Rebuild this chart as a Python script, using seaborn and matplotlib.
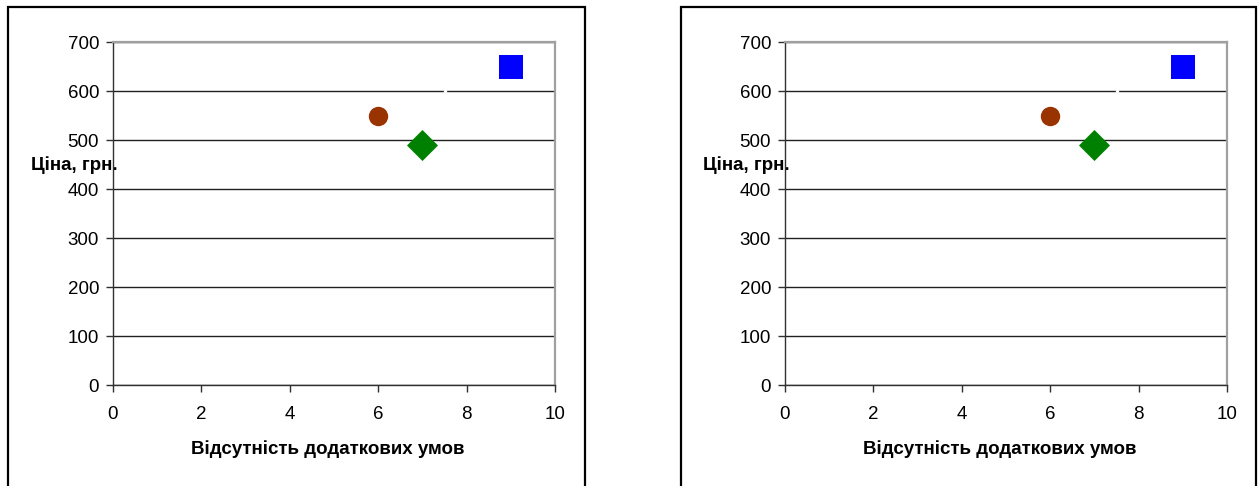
import matplotlib
matplotlib.use("Agg")
import matplotlib.pyplot as plt
import seaborn as sns
import pandas as pd
from matplotlib.patches import Rectangle

sns.set_style("white")
plt.rcParams['font.family'] = ['Liberation Sans', 'DejaVu Sans']

# Data
labels = ["A", "B", "C", "D"]
x_vals = [6, 7, 9, 7.5]
y_vals = [550, 490, 650, 600]
colors = ["#993300", "#008000", "#0000FF", "#FFFFFF"]
markers = ["o", "D", "s", "o"]
sizes = [195, 250, 280, 6]
x_ticks = [0, 2, 4, 6, 8, 10]
y_ticks = [0, 100, 200, 300, 400, 500, 600, 700]
xlabel = "Відсутність додаткових умов"
ylabel = "Ціна, грн."

df = pd.DataFrame({"label": labels, "x": x_vals, "y": y_vals})

W, H = 1259, 486
fig = plt.figure(figsize=(W / 100, H / 100), dpi=100)

panels = [
    dict(box=(8, 7, 585), ax=(113, 555)),
    dict(box=(681, 7, 1256), ax=(785, 1227)),
]
top_px, bot_px = 42, 385

for p in panels:
    bx0, by0, bx1 = p["box"]
    fig.patches.append(Rectangle((bx0 / W, -0.05), (bx1 - bx0) / W, 1.05 - by0 / H,
                                 transform=fig.transFigure, fill=False,
                                 edgecolor="black", linewidth=1.6, zorder=0))
    ax0, ax1 = p["ax"]
    ax = fig.add_axes([ax0 / W, 1 - bot_px / H, (ax1 - ax0) / W, (bot_px - top_px) / H])
    ax.set_xlim(0, 10)
    ax.set_ylim(0, 700)
    ax.set_xticks(x_ticks)
    ax.set_yticks(y_ticks)
    ax.yaxis.grid(True, color="#202020", linewidth=1.0)
    ax.xaxis.grid(False)
    ax.set_axisbelow(True)
    for i, row in df.iterrows():
        sns.scatterplot(x=[row["x"]], y=[row["y"]], ax=ax, marker=markers[i],
                        color=colors[i], s=sizes[i], edgecolor=colors[i],
                        linewidth=0, zorder=3, legend=False)
    for s in ["top", "right"]:
        ax.spines[s].set_color("#A0A0A0")
        ax.spines[s].set_linewidth(1.6)
    for s in ["left", "bottom"]:
        ax.spines[s].set_color("#303030")
        ax.spines[s].set_linewidth(1.0)
    ax.tick_params(axis="both", direction="out", length=5, width=1, color="#303030",
                   labelsize=13.5, labelcolor="black", bottom=True, left=True)
    ax.tick_params(axis="x", pad=10)
    ax.tick_params(axis="y", pad=5)
    ax.set_xlabel(xlabel, fontsize=13.5, fontweight="bold", color="black",
                  va="center", ha="center")
    ax.xaxis.set_label_coords(0.485, -0.187)
    ax.set_ylabel(ylabel, fontsize=13.5, fontweight="bold", rotation=0, color="black",
                  va="center", ha="center")
    ax.yaxis.set_label_coords(-0.087, 0.64)

fig.savefig("out.png", dpi=100)
